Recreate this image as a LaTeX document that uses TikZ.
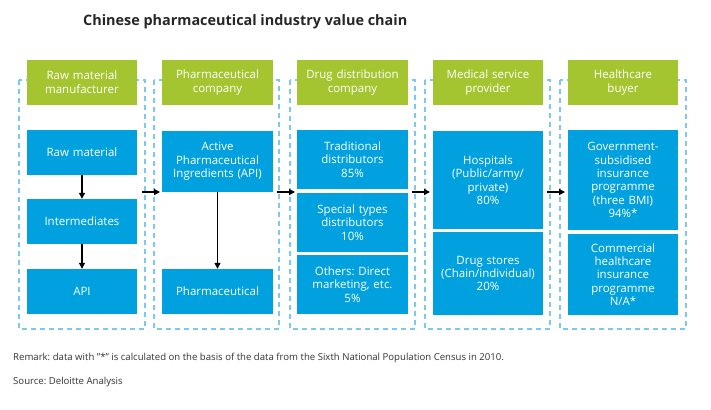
\documentclass[tikz,border=0pt]{standalone}
\usepackage{fontspec}
\setmainfont{Open Sans}
\usetikzlibrary{arrows.meta}
\definecolor{dgreen}{HTML}{A5C530}
\definecolor{dblue}{HTML}{00A1DE}
\definecolor{dash}{HTML}{7DC8F0}
\frenchspacing
\begin{document}
\begin{tikzpicture}[x=1pt,y=-1pt,
  colframe/.style={draw=dash,line width=1.4pt,dash pattern=on 5pt off 4pt},
  hdr/.style={fill=dgreen,text=white,inner sep=0pt,align=center,font=\fontsize{11.5}{14}\selectfont,text width=110pt,minimum height=45pt},
  bbox/.style={fill=dblue,text=white,inner sep=0pt,align=center,font=\fontsize{11.5}{13.4}\selectfont,text width=#1},
  bbox/.default=110pt,
  arr/.style={draw=black,line width=1.3pt,-{Triangle[length=6pt,width=6pt]}}]
\useasboundingbox (0,0) rectangle (711,409);
% title
\node[anchor=west,inner sep=0pt,font=\fontsize{14.4}{16}\selectfont\bfseries,text=black!85] (title) at (83,22) {Chinese pharmaceutical industry value chain};
% dashed column frames
\draw[colframe] (19,80) rectangle (145,329);
\draw[colframe] (154,80) rectangle (279,329);
\draw[colframe] (290,80) rectangle (415,329);
\draw[colframe] (425,80) rectangle (550,329);
\draw[colframe] (560,80) rectangle (686,329);
% headers
\node[hdr] (h1) at (82,82.5) {Raw material\\manufacturer};
\node[hdr,text width=111pt] (h2) at (217.5,82.5) {Pharmaceutical\\company};
\node[hdr,text width=111pt] (h3) at (352.5,82.5) {Drug distribution\\company};
\node[hdr] (h4) at (488,82.5) {Medical service\\provider};
\node[hdr] (h5) at (623,82.5) {Healthcare\\buyer};
% column 1
\node[bbox,minimum height=45pt] (raw) at (82,152.5) {Raw material};
\node[bbox,minimum height=45pt] (inter) at (82,221.5) {Intermediates};
\node[bbox,minimum height=45pt] (api) at (82,291.5) {API};
% column 2
\node[bbox=111pt,minimum height=61pt] (act) at (217.5,161.5) {Active\\Pharmaceutical\\Ingredients (API)};
\node[bbox=111pt,minimum height=45pt] (pharm) at (217.5,291.5) {Pharmaceutical};
% column 3
\node[bbox=111pt,minimum height=59pt] (trad) at (352.5,159.5) {Traditional\\distributors\\85\%};
\node[bbox=111pt,minimum height=59pt] (spec) at (352.5,222.5) {Special types\\distributors\\10\%};
\node[bbox=111pt,minimum height=59pt] (oth) at (352.5,284.5) {Others: Direct\\marketing, etc.\\5\%};
% column 4
\node[bbox,minimum height=98pt] (hosp) at (488,180) {Hospitals\\(Public/army/\\private)\\80\%};
\node[bbox,minimum height=83pt] (store) at (488,273.5) {Drug stores\\(Chain/individual)\\20\%};
% column 5
\node[bbox,minimum height=100pt] (gov) at (623,180) {Government-\\subsidised\\insurance\\programme\\(three BMI)\\94\%*};
\node[bbox,minimum height=81pt] (comm) at (623,274.5) {Commercial\\healthcare\\insurance\\programme\\N/A*};
% vertical arrows
\draw[arr] (raw) -- (inter);
\draw[arr] (inter) -- (api);
\draw[arr] (act) -- (pharm);
% column-to-column arrows
\coordinate (s1) at (142,192); \coordinate (e1) at (160,192);
\coordinate (s2) at (277,192); \coordinate (e2) at (295,192);
\coordinate (s3) at (412,192); \coordinate (e3) at (430,192);
\coordinate (s4) at (547,192); \coordinate (e4) at (565,192);
\draw[arr] (s1) -- (e1);
\draw[arr] (s2) -- (e2);
\draw[arr] (s3) -- (e3);
\draw[arr] (s4) -- (e4);
% notes
\node[anchor=west,inner sep=0pt,font=\fontsize{9.6}{11}\selectfont,text=black!80] (rem) at (13,358) {Remark: data with "*" is calculated on the basis of the data from the Sixth National Population Census in 2010.};
\node[anchor=west,inner sep=0pt,font=\fontsize{9.6}{11}\selectfont,text=black!80] (src) at (13,382) {Source: Deloitte Analysis};
\end{tikzpicture}
\end{document}
